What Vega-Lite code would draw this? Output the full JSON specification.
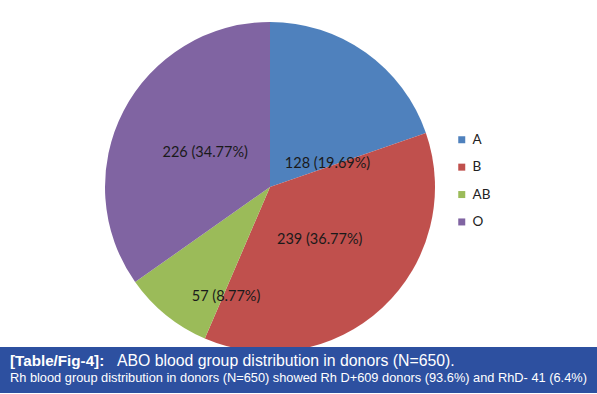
{
  "$schema": "https://vega.github.io/schema/vega-lite/v6.json",
  "padding": {"top": 22, "left": 0, "right": 0, "bottom": 6},
  "background": "white",
  "spacing": 0,
  "bounds": "flush",
  "config": {"view": {"stroke": null}, "font": "Lato"},
  "title": {
    "text": "ABO blood group distribution in donors (N=650).",
    "orient": "bottom",
    "anchor": "start",
    "frame": "group",
    "offset": -39,
    "dx": 117,
    "font": "Liberation Sans",
    "fontSize": 15.8,
    "fontWeight": "normal",
    "color": "white"
  },
  "vconcat": [
    {
      "width": 540,
      "height": 320,
      "data": {
        "values": [
          {"group": "A", "count": 128, "label": "128 (19.69%)", "order": 1},
          {"group": "B", "count": 239, "label": "239 (36.77%)", "order": 2},
          {"group": "AB", "count": 57, "label": "57 (8.77%)", "order": 3},
          {"group": "O", "count": 226, "label": "226 (34.77%)", "order": 4}
        ]
      },
      "encoding": {
        "theta": {"field": "count", "type": "quantitative", "stack": true},
        "order": {"field": "order", "type": "quantitative"},
        "color": {
          "field": "group",
          "type": "nominal",
          "scale": {"domain": ["A", "B", "AB", "O"], "range": ["#4F81BD", "#C0504D", "#9BBB59", "#8064A2"]},
          "legend": {
            "title": null,
            "orient": "none",
            "legendX": 455,
            "legendY": 106,
            "padding": 0,
            "symbolType": "square",
            "symbolSize": 49,
            "symbolStrokeWidth": 0,
            "labelFontSize": 13.5,
            "labelColor": "#222222",
            "labelOffset": 4,
            "rowPadding": 12.4
          }
        }
      },
      "layer": [
        {"mark": {"type": "arc", "outerRadius": 165}},
        {
          "mark": {
            "type": "text",
            "fontSize": 14.5,
            "color": "#1a1a1a",
            "radius": {"expr": "datum.group === 'AB' ? 118 : datum.group === 'A' ? 62 : 73"},
            "thetaOffset": {"expr": "datum.group === 'AB' ? -0.30 : datum.group === 'A' ? 0.57 : 0"}
          },
          "encoding": {
            "text": {"field": "label"},
            "color": {"value": "#1a1a1a"}
          }
        }
      ]
    },
    {
      "width": 597,
      "height": 46,
      "view": {"fill": "#2d50a0", "stroke": null},
      "title": {
        "text": "[Table/Fig-4]:",
        "subtitle": "Rh blood group distribution in donors (N=650) showed Rh D+609 donors (93.6%) and RhD- 41 (6.4%)",
        "orient": "top",
        "anchor": "start",
        "frame": "group",
        "offset": -38,
        "dx": 10,
        "font": "Liberation Sans",
        "fontSize": 15.2,
        "fontWeight": "bold",
        "color": "white",
        "subtitleFont": "Liberation Sans",
        "subtitleFontSize": 12.8,
        "subtitleColor": "white",
        "subtitlePadding": 3
      },
      "data": {"values": [{"k": 1}]},
      "mark": {"type": "point", "opacity": 0}
    }
  ]
}
